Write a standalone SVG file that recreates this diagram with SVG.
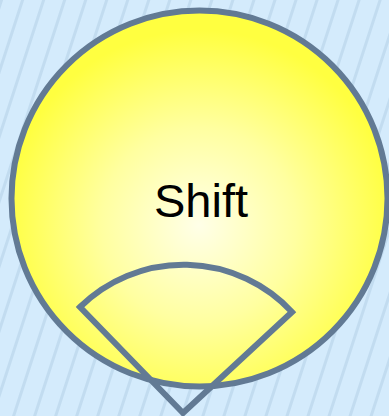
<svg xmlns="http://www.w3.org/2000/svg" width="389" height="416" viewBox="0 0 389 416">
<defs>
<pattern id="stripes" width="20" height="20" patternUnits="userSpaceOnUse" patternTransform="rotate(18)">
<rect width="20" height="20" fill="#d4ebfc"/>
<rect x="0" width="3" height="20" fill="#c2dcf0"/>
</pattern>
<radialGradient id="sun" cx="199" cy="225" r="195" gradientUnits="userSpaceOnUse">
<stop offset="0" stop-color="#ffffe8"/>
<stop offset="0.5" stop-color="#ffffa0"/>
<stop offset="1" stop-color="#ffff40"/>
</radialGradient>
<style>
.ln{stroke:#627a94;stroke-width:6;stroke-linejoin:miter}
.lbl{font-family:"Liberation Sans",Arial,sans-serif;font-size:47px;fill:#000}
</style>
</defs>
<rect width="389" height="416" fill="url(#stripes)"/>
<g id="circle">
<circle cx="199.5" cy="198.5" r="188" fill="url(#sun)" class="ln"/>
<text class="lbl" x="201" y="217" text-anchor="middle">Shift</text>
</g>
<g id="sector">
<path d="M183,413 L80,307 A148,148 0 0 1 292,312 Z" fill="none" class="ln"/>
</g>
</svg>
